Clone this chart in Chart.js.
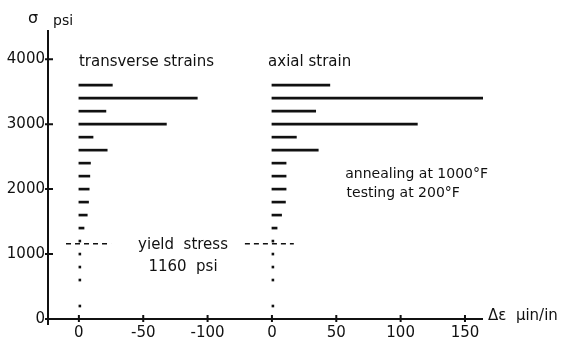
<!DOCTYPE html>
<html><head><meta charset="utf-8">
<script src="https://cdn.jsdelivr.net/npm/chart.js@4/dist/chart.umd.min.js"></script>
<style>html,body{margin:0;padding:0;background:#fff}</style>
</head><body>
<canvas id="c" width="563" height="341"></canvas>
<script>
// ---- data ----
const stressLevels     = [3600, 3400, 3200, 3000, 2800, 2600, 2400, 2200, 2000, 1800, 1600, 1400, 1200, 1000, 800, 600, 200];
const transverseStrain = [-26, -92, -21, -68, -11, -22, -9, -8.5, -8, -7.5, -6.5, -4, -1.5, -1.5, -1.5, -1.5, -1.5];
const axialStrain      = [45, 174, 34, 113, 19, 36, 11, 11, 11, 10.5, 7.5, 4, 1.5, 1.5, 1.5, 1.5, 1.5];
const transverseTicks  = [0, -50, -100];
const axialTicks       = [0, 50, 100, 150];
const stressTicks      = [0, 1000, 2000, 3000, 4000];
const yieldStress      = 1160;

// two strain panels share one horizontal axis; axial panel starts at this offset
const AXIAL_OFFSET = 150;
const uT = t => -t;
const uA = a => AXIAL_OFFSET + a;

const xTickItems = transverseTicks.map(t => ({value: uT(t), label: String(t)}))
  .concat(axialTicks.map(a => ({value: uA(a), label: String(a)})));
const xLabelMap = {};
xTickItems.forEach(o => { xLabelMap[o.value] = o.label; });

const FONT = '"DejaVu Sans", sans-serif';
const INK = '#111';

const overlay = {
  id: 'overlay',
  afterDraw(chart) {
    const {ctx, chartArea: ca, scales: {x, y}} = chart;
    ctx.save();
    ctx.strokeStyle = INK; ctx.fillStyle = INK;
    // axes
    ctx.lineWidth = 2;
    ctx.beginPath();
    ctx.moveTo(ca.left, ca.top); ctx.lineTo(ca.left, ca.bottom + 6);
    ctx.moveTo(ca.left - 2, ca.bottom); ctx.lineTo(ca.right, ca.bottom);
    ctx.stroke();
    // tick marks
    ctx.beginPath();
    stressTicks.forEach(v => { const py = y.getPixelForValue(v); ctx.moveTo(ca.left - 3, py); ctx.lineTo(ca.left + 5, py); });
    xTickItems.forEach(o => { const px = x.getPixelForValue(o.value); ctx.moveTo(px, ca.bottom - 4); ctx.lineTo(px, ca.bottom + 3); });
    ctx.stroke();
    // yield stress dashed lines
    const yy = y.getPixelForValue(yieldStress);
    ctx.lineWidth = 1.5;
    ctx.setLineDash([5, 4]);
    ctx.beginPath();
    ctx.moveTo(x.getPixelForValue(uT(10)), yy); ctx.lineTo(x.getPixelForValue(uT(-25)), yy);
    ctx.moveTo(x.getPixelForValue(uA(-21)), yy); ctx.lineTo(x.getPixelForValue(uA(17)), yy);
    ctx.stroke();
    ctx.setLineDash([]);
    // texts
    ctx.textBaseline = 'alphabetic';
    ctx.textAlign = 'left';
    const txt = (s, u, v, size) => { ctx.font = size + 'px ' + FONT; ctx.fillText(s, x.getPixelForValue(u), y.getPixelForValue(v)); };
    txt('transverse strains', uT(0), 3890, 15);
    txt('axial strain', uA(-3), 3890, 15);
    txt('annealing at 1000°F', uA(57), 2170, 14);
    txt('testing at 200°F', uA(58), 1877, 14);
    txt('yield  stress', uT(-46), 1072, 15);
    txt('1160  psi', uT(-54), 743, 15);
    ctx.font = '15px ' + FONT;
    ctx.fillText('Δε  μin/in', ca.right + 5, ca.bottom + 1);
    ctx.font = '16px ' + FONT;
    ctx.fillText('σ', 28, 23);
    ctx.font = '14px ' + FONT;
    ctx.fillText('psi', 53, 25);
    ctx.restore();
  }
};

new Chart(document.getElementById('c'), {
  type: 'bar',
  data: {
    datasets: [
      {
        label: 'transverse strains',
        data: stressLevels.map((s, i) => ({y: s, x: [uT(0), uT(transverseStrain[i])]})),
        backgroundColor: INK, borderWidth: 0, barThickness: 2, grouped: false
      },
      {
        label: 'axial strain',
        data: stressLevels.map((s, i) => ({y: s, x: [uA(0), uA(axialStrain[i])]})),
        backgroundColor: INK, borderWidth: 0, barThickness: 2, grouped: false
      }
    ]
  },
  options: {
    indexAxis: 'y',
    responsive: false,
    animation: false,
    devicePixelRatio: 1,
    layout: {padding: {left: 0, right: 80, top: 30, bottom: 0}},
    plugins: {legend: {display: false}, tooltip: {enabled: false}},
    scales: {
      x: {
        type: 'linear', min: -24, max: 314, offset: false,
        afterBuildTicks: s => { s.ticks = xTickItems.map(o => ({value: o.value})); },
        afterFit: s => { s.height = 22; },
        grid: {display: false, drawTicks: false},
        border: {display: false},
        ticks: {
          padding: 5, color: INK, font: {family: FONT, size: 15},
          autoSkip: false, maxRotation: 0,
          callback: v => xLabelMap[v]
        }
      },
      y: {
        type: 'linear', min: 0, max: 4450, offset: false,
        afterBuildTicks: s => { s.ticks = stressTicks.map(v => ({value: v})); },
        afterFit: s => { s.width = 48; },
        grid: {display: false, drawTicks: false},
        border: {display: false},
        ticks: {padding: 3, color: INK, font: {family: FONT, size: 15}, autoSkip: false,
          callback: v => String(v)}
      }
    }
  },
  plugins: [overlay]
});
</script>
</body></html>
